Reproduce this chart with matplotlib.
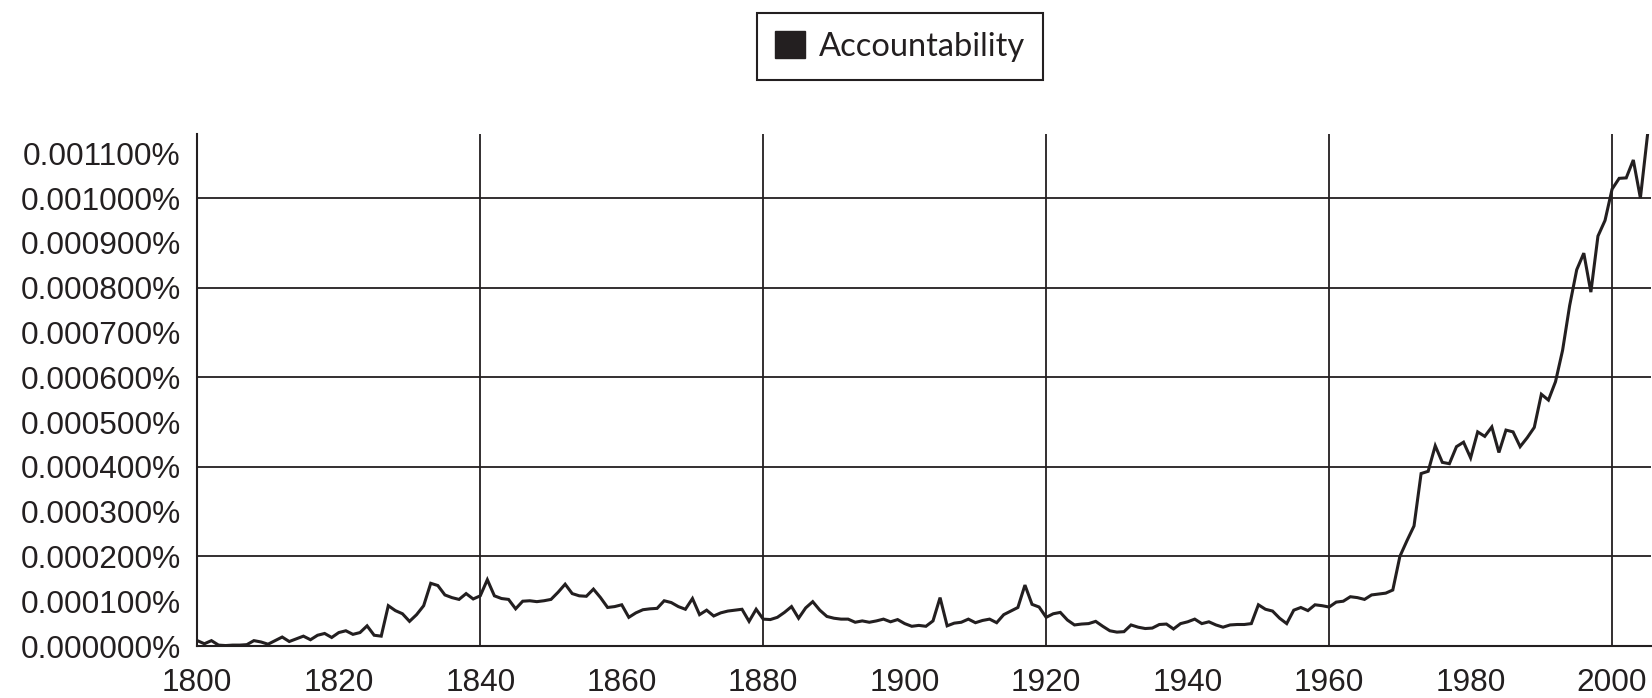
import matplotlib
matplotlib.use("Agg")
import matplotlib.pyplot as plt
from matplotlib.patches import Patch
from matplotlib.ticker import FuncFormatter, MultipleLocator
import numpy as np

# ---- data: yearly frequency of "Accountability", in millionths of a percent
years = list(range(1800, 2006))
freq = [
    12, 5, 12, 2, 1, 2, 2, 3, 12, 9,             # 1800s
    4, 12, 20, 10, 16, 22, 14, 24, 28, 19,       # 1810s
    30, 34, 26, 30, 45, 24, 22, 90, 79, 72,      # 1820s
    55, 70, 90, 140, 135, 114, 108, 104, 117, 105,   # 1830s
    112, 148, 112, 106, 104, 83, 100, 101, 99, 101,  # 1840s
    104, 120, 138, 117, 112, 111, 127, 108, 86, 88,  # 1850s
    92, 64, 74, 81, 83, 84, 101, 97, 88, 82,     # 1860s
    106, 70, 80, 67, 74, 78, 80, 82, 55, 82,     # 1870s
    60, 59, 64, 75, 88, 62, 85, 99, 80, 66,      # 1880s
    62, 60, 60, 53, 56, 53, 56, 60, 54, 59,      # 1890s
    50, 44, 46, 44, 56, 108, 45, 51, 53, 60,     # 1900s
    52, 57, 60, 52, 70, 78, 86, 136, 93, 87,     # 1910s
    64, 72, 75, 58, 47, 49, 50, 55, 44, 34,      # 1920s
    31, 32, 47, 42, 39, 40, 48, 49, 38, 50,      # 1930s
    54, 60, 50, 54, 47, 42, 47, 48, 48, 50,      # 1940s
    92, 82, 78, 62, 50, 80, 86, 79, 92, 90,      # 1950s
    87, 98, 100, 110, 108, 104, 114, 116, 118, 125,  # 1960s
    200, 235, 268, 385, 390, 447, 410, 407, 445, 455,  # 1970s
    420, 478, 468, 489, 432, 482, 478, 445, 465, 488,  # 1980s
    562, 549, 590, 660, 760, 840, 877, 790, 915, 950,  # 1990s
    1020, 1044, 1045, 1085, 1000, 1140,          # 2000s
]
series_name = "Accountability"

y_labelled = np.arange(0, 1101, 100)
x_labelled = np.arange(1800, 2001, 20)

ink = "#231f20"

fig = plt.figure(figsize=(16.52, 6.98), dpi=100)
ax = fig.add_axes([197.3 / 1652, 52 / 698, (1651 - 197.3) / 1652, 512 / 698])

ax.plot(years, freq, color=ink, linewidth=2.2, solid_joinstyle="miter", zorder=3)

ax.set_xlim(1800, 2005.5)
ax.set_ylim(0, 1143)

# labelled ticks every 100 / every 20 years, grid only every 200 / 40 years
ax.set_yticks(y_labelled)
ax.set_xticks(x_labelled)
ax.xaxis.remove_overlapping_locs = False
ax.yaxis.remove_overlapping_locs = False
ax.yaxis.set_minor_locator(MultipleLocator(200))
ax.xaxis.set_minor_locator(MultipleLocator(40))
ax.grid(which="minor", color=ink, linewidth=1.3)
ax.grid(which="major", visible=False)
ax.set_axisbelow(True)

ax.yaxis.set_major_formatter(FuncFormatter(lambda v, _: f"{v / 1e6:.6f}%"))
ax.tick_params(which="both", length=0)
ax.tick_params(axis="y", pad=12)
ax.tick_params(axis="x", pad=16)
for lab in ax.get_xticklabels() + ax.get_yticklabels():
    lab.set_fontfamily("Liberation Sans")
    lab.set_fontsize(22.8)
    lab.set_color(ink)

for side in ("top", "right"):
    ax.spines[side].set_visible(False)
for side in ("left", "bottom"):
    ax.spines[side].set_color(ink)
    ax.spines[side].set_linewidth(1.5)

leg = fig.legend(
    handles=[Patch(facecolor=ink, edgecolor=ink)],
    labels=[series_name],
    loc="upper left",
    bbox_to_anchor=(757 / 1652, 1 - 13 / 698),
    prop={"family": "Lato", "size": 23.5},
    handlelength=0.92,
    handleheight=0.92,
    handletextpad=0.42,
    borderpad=0.55,
    borderaxespad=0,
    fancybox=False,
    framealpha=1,
    edgecolor=ink,
    labelcolor=ink,
)
leg.get_frame().set_linewidth(1.5)

fig.savefig("out.png", dpi=100)
